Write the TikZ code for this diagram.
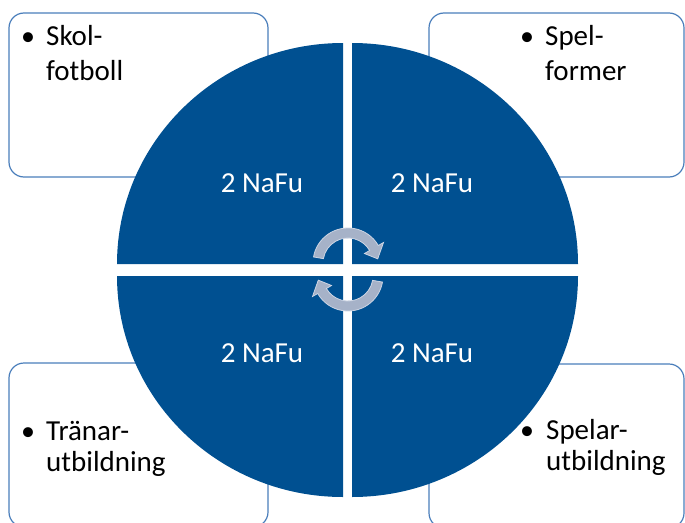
\documentclass[tikz,border=0pt]{standalone}
\usepackage{fontspec}
\setmainfont{Carlito}
\definecolor{quad}{RGB}{0,80,145}
\definecolor{boxline}{RGB}{74,126,187}
\definecolor{arrowfill}{RGB}{166,178,200}
\definecolor{arrowline}{RGB}{205,213,228}
\begin{document}
\begin{tikzpicture}[x=1pt,y=-1pt,
  boxstyle/.style={draw=boxline, line width=1.2pt, rounded corners=15pt, fill=white,
    minimum width=259pt, minimum height=164pt, anchor=north west, inner sep=0, outer sep=0},
  quadstyle/.style={fill=quad},
  lbl/.style={text=white, font=\fontsize{29}{34}\selectfont, inner sep=0, anchor=base},
  itemtxt/.style={text=black, font=\fontsize{29}{34}\selectfont, anchor=base west, inner sep=0},
  bul/.style={text=black, font=\fontsize{28}{34}\selectfont, anchor=base, inner sep=0},
  arrowstyle/.style={fill=arrowfill, draw=arrowline, line width=0.8pt, line join=miter}]
\useasboundingbox (0,0) rectangle (685,522);
\clip (0,0) rectangle (685,522);

% boxes
\node[boxstyle] (boxTL) at (9,13) {};
\node[boxstyle, minimum width=255pt] (boxTR) at (429,13) {};
\node[boxstyle] (boxBL) at (9,363) {};
\node[boxstyle, minimum width=255pt] (boxBR) at (429,364) {};

% quadrants
\fill[quadstyle] (343,264) -- (117,264) arc[start angle=180, end angle=270, x radius=226, y radius=221] -- cycle;
\fill[quadstyle] (352,264) -- (352,43) arc[start angle=270, end angle=360, x radius=226, y radius=221] -- cycle;
\fill[quadstyle] (352,276) -- (578,276) arc[start angle=0, end angle=90, x radius=226, y radius=221] -- cycle;
\fill[quadstyle] (343,276) -- (343,497) arc[start angle=90, end angle=180, x radius=226, y radius=221] -- cycle;

% circular arrows
\begin{scope}[shift={(348,263)}]
\filldraw[arrowstyle] (190:35) arc[start angle=190, end angle=330, radius=35]
  -- (330:41) -- (352:30) -- (330:19) -- (330:25)
  arc[start angle=330, end angle=190, radius=25] -- cycle;
\end{scope}
\begin{scope}[shift={(348,276)}]
\filldraw[arrowstyle] (10:35) arc[start angle=10, end angle=150, radius=35]
  -- (150:41) -- (172:30) -- (150:19) -- (150:25)
  arc[start angle=150, end angle=10, radius=25] -- cycle;
\end{scope}

% quadrant labels
\node[lbl] (qTL) at (262,192) {2 NaFu};
\node[lbl] (qTR) at (432,192) {2 NaFu};
\node[lbl] (qBL) at (262,362) {2 NaFu};
\node[lbl] (qBR) at (432,362) {2 NaFu};

% box texts
\node[bul] (bTL) at (28,45) {•};
\node[itemtxt] (tTL1) at (46,45) {Skol-};
\node[itemtxt] (tTL2) at (46,80) {fotboll};

\node[bul] (bTR) at (527,45) {•};
\node[itemtxt] (tTR1) at (545,45) {Spel-};
\node[itemtxt] (tTR2) at (545,80) {former};

\node[bul] (bBL) at (28,440) {•};
\node[itemtxt] (tBL1) at (46,440) {Tränar-};
\node[itemtxt] (tBL2) at (46,471) {utbildning};

\node[bul] (bBR) at (527,439) {•};
\node[itemtxt] (tBR1) at (546,439) {Spelar-};
\node[itemtxt] (tBR2) at (546,470) {utbildning};
\end{tikzpicture}
\end{document}
